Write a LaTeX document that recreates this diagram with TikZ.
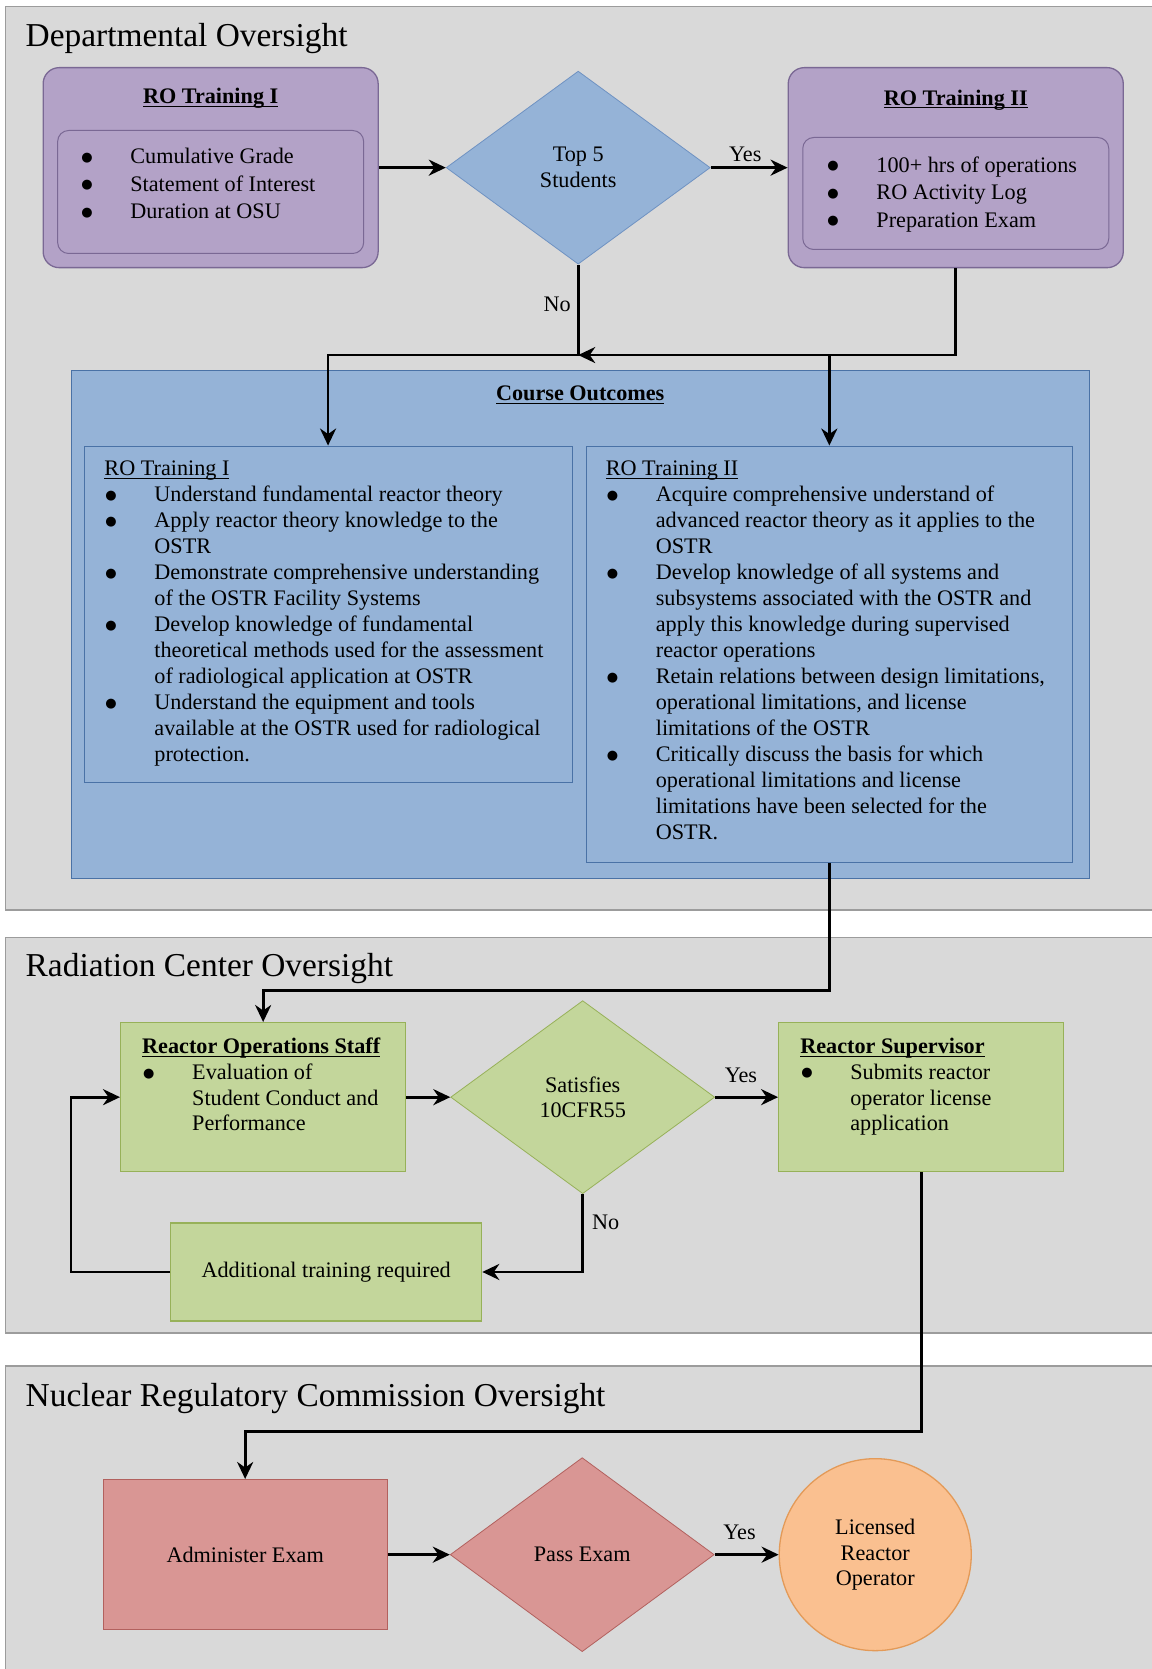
\documentclass[tikz,border=0pt]{standalone}
\usepackage{fontspec}
\setmainfont{Liberation Serif}
\newfontfamily\dotfont{DejaVu Sans}
\usepackage{xcolor}
\usetikzlibrary{shapes.geometric, arrows.meta, positioning}

\definecolor{panelfill}{HTML}{D9D9D9}
\definecolor{panelline}{HTML}{9C9C9C}
\definecolor{purplefill}{HTML}{B3A2C7}
\definecolor{purpleline}{HTML}{7A6894}
\definecolor{bluefill}{HTML}{95B3D7}
\definecolor{blueline}{HTML}{4A72A6}
\definecolor{diamondline}{HTML}{6F92C2}
\definecolor{greenfill}{HTML}{C3D69B}
\definecolor{greenline}{HTML}{97B159}
\definecolor{redfill}{HTML}{D99694}
\definecolor{redline}{HTML}{B2615E}
\definecolor{orangefill}{HTML}{FAC090}
\definecolor{orangeline}{HTML}{E39A58}

\newcommand{\itm}{\hspace*{1pt}\makebox[49pt][l]{\raisebox{2.5pt}{\dotfont\fontsize{13}{13}\selectfont ●}}}
\newcommand{\cnt}{\hspace*{50pt}}
\newcommand{\undl}[1]{\setbox0=\hbox{#1}\rlap{\rule[-3.4pt]{\wd0}{1.1pt}}\box0}
\newcommand{\hd}[1]{\undl{\textbf{#1}}}

\tikzstyle{panel} = [rectangle, anchor=north west, draw=panelline, fill=panelfill, line width=1.5pt, minimum width=1160pt, inner sep=0pt]
\tikzstyle{paneltitle} = [inner sep=0pt, font=\fontsize{33.4}{38}\selectfont]
\tikzstyle{training} = [rectangle, rounded corners=16pt, draw=purpleline, fill=purplefill, line width=1.3pt, minimum width=335pt, minimum height=200pt]
\tikzstyle{criteria} = [rectangle, rounded corners=11pt, draw=purpleline, line width=1pt, minimum width=306pt]
\tikzstyle{decision} = [diamond, minimum width=264pt, minimum height=193pt, inner sep=0pt, line width=0.8pt, align=center]
\tikzstyle{outcome} = [rectangle, draw=blueline, fill=bluefill, line width=1pt]
\tikzstyle{staff} = [rectangle, draw=greenline, fill=greenfill, line width=1.3pt]
\tikzstyle{exam} = [rectangle, draw=redline, fill=redfill, line width=1.3pt]
\tikzstyle{heading} = [inner sep=0pt]
\tikzstyle{listtext} = [anchor=north west, inner sep=0pt, align=left]
\tikzstyle{answer} = [inner sep=0pt]
\tikzstyle{arrow} = [line width=2.8pt, ->, >={Stealth[length=17pt,width=16pt,inset=5.5pt]}]

\begin{document}
\begin{tikzpicture}[x=1pt, y=-1pt, font=\fontsize{22.2}{26}\selectfont]
\useasboundingbox (0,0) rectangle (1151,1669);

% Departmental
\node (pan1) [panel, minimum height=903pt] at (4.5,6) {};
\node (pan1title) [paneltitle, below right=41pt and 21pt of pan1.north west, anchor=base west] {Departmental Oversight};

\node (roI) [training, below right=61pt and 38pt of pan1.north west] {};
\node (roIhead) [heading, below=21pt of roI.north] {\hd{RO Training I}};
\node (roIcrit) [criteria, minimum height=123pt, below=63pt of roI.north] {};
\node (roIlist) [listtext, font=\fontsize{22.2}{27.5}\selectfont, below right=18pt and 23pt of roIcrit.north west] {
    \itm Cumulative Grade\\
    \itm Statement of Interest\\
    \itm Duration at OSU};

\node (top5) [decision, draw=diamondline, fill=bluefill, right=67pt of roI] {Top 5\\Students};

\node (roII) [training, right=77pt of top5] {};
\node (roIIhead) [heading, below=22.5pt of roII.north] {\hd{RO Training II}};
\node (roIIcrit) [criteria, minimum height=112pt, below=70pt of roII.north] {};
\node (roIIlist) [listtext, font=\fontsize{22.2}{27.5}\selectfont, below right=19.5pt and 24pt of roIIcrit.north west] {
    \itm 100+ hrs of operations\\
    \itm RO Activity Log\\
    \itm Preparation Exam};

\node (course) [outcome, line width=1.3pt, minimum width=1018pt, minimum height=508pt, below=105pt of top5, xshift=2pt] {};
\node (courseHead) [heading, below=16pt of course.north] {\hd{Course Outcomes}};
\node (outI) [outcome, minimum width=488pt, minimum height=336pt, below right=76pt and 13pt of course.north west] {};
\node (outII) [outcome, minimum width=486pt, minimum height=416pt, below left=76pt and 17pt of course.north east] {};
\node (outIlist) [listtext, below right=15.3pt and 20.7pt of outI.north west] {
    \undl{RO Training I}\\
    \itm Understand fundamental reactor theory\\
    \itm Apply reactor theory knowledge to the\\
    \cnt OSTR\\
    \itm Demonstrate comprehensive understanding\\
    \cnt of the OSTR Facility Systems\\
    \itm Develop knowledge of fundamental\\
    \cnt theoretical methods used for the assessment\\
    \cnt of radiological application at OSTR\\
    \itm Understand the equipment and tools\\
    \cnt available at the OSTR used for radiological\\
    \cnt protection.};
\node (outIIlist) [listtext, below right=15.3pt and 19.8pt of outII.north west] {
    \undl{RO Training II}\\
    \itm Acquire comprehensive understand of\\
    \cnt advanced reactor theory as it applies to the\\
    \cnt OSTR\\
    \itm Develop knowledge of all systems and\\
    \cnt subsystems associated with the OSTR and\\
    \cnt apply this knowledge during supervised\\
    \cnt reactor operations\\
    \itm Retain relations between design limitations,\\
    \cnt operational limitations, and license\\
    \cnt limitations of the OSTR\\
    \itm Critically discuss the basis for which\\
    \cnt operational limitations and license\\
    \cnt limitations have been selected for the\\
    \cnt OSTR.};

% Radiation Center
\node (pan2) [panel, minimum height=395.5pt] at (4.5,936.5) {};
\node (pan2title) [paneltitle, below right=40pt and 21pt of pan2.north west, anchor=base west] {Radiation Center Oversight};

\node (ros) [staff, minimum width=285pt, minimum height=149pt, below right=85.5pt and 115.5pt of pan2.north west] {};
\node (roslist) [listtext, font=\fontsize{22.2}{25.7}\selectfont, below right=16pt and 22pt of ros.north west] {
    \hd{Reactor Operations Staff}\\
    \itm Evaluation of\\
    \cnt Student Conduct and\\
    \cnt Performance};
\node (sat) [decision, draw=greenline, fill=greenfill, font=\fontsize{22.2}{25.7}\selectfont, right=44pt of ros] {Satisfies\\10CFR55};
\node (rs) [staff, minimum width=285pt, minimum height=149pt, right=63pt of sat] {};
\node (rslist) [listtext, font=\fontsize{22.2}{25.7}\selectfont, below right=16pt and 22pt of rs.north west] {
    \hd{Reactor Supervisor}\\
    \itm Submits reactor\\
    \cnt operator license\\
    \cnt application};
\node (addt) [staff, minimum width=311pt, minimum height=98pt, below=50pt of ros, xshift=63pt] {Additional training required};

% Nuclear Regulatory Commission
\node (pan3) [panel, minimum height=315pt] at (4.5,1365) {};
\node (pan3title) [paneltitle, below right=41.5pt and 21pt of pan3.north west, anchor=base west] {Nuclear Regulatory Commission Oversight};

\node (adm) [exam, minimum width=284pt, minimum height=150pt, below right=114pt and 98pt of pan3.north west] {Administer Exam};
\node (pass) [decision, draw=redline, fill=redfill, minimum height=194pt, right=62pt of adm] {Pass Exam};
\node (lro) [circle, draw=orangeline, fill=orangefill, line width=1.3pt, minimum size=192pt, inner sep=0pt, align=center, font=\fontsize{22.2}{25.7}\selectfont, right=64pt of pass] {Licensed\\Reactor\\Operator};

% connectors
\node (jn) [coordinate, below=90.5pt of top5.south] {};
\node (turnA) [coordinate, below=128pt of outII.south] {};
\node (loopx) [coordinate, left=99pt of addt.west] {};
\node (turnB) [coordinate, below=259pt of rs.south] {};

\draw[arrow] (roI.east) -- (top5.west);
\draw[arrow] (top5.east) -- node[answer, above=5pt, pos=0.45] {Yes} (roII.west);
\draw[arrow] (top5.south) -- node[answer, left=6pt, pos=0.44] {No} (jn) -| (outI.north);
\draw[arrow] (roII.south) |- (jn);
\draw[arrow] (outII.north |- jn) -- (outII.north);
\draw[arrow] (outII.south) -- (turnA) -| (ros.north);

\draw[arrow] (ros.east) -- (sat.west);
\draw[arrow] (sat.east) -- node[answer, above=13pt, pos=0.41] {Yes} (rs.west);
\draw[arrow] (sat.south) |- node[answer, right=8pt, pos=0.18] {No} (addt.east);
\draw[arrow] (addt.west) -- (loopx) |- (ros.west);
\draw[arrow] (rs.south) -- (turnB) -| (adm.north);

\draw[arrow] (adm.east) -- (pass.west);
\draw[arrow] (pass.east) -- node[answer, above=14pt, pos=0.39] {Yes} (lro.west);

\end{tikzpicture}
\end{document}
